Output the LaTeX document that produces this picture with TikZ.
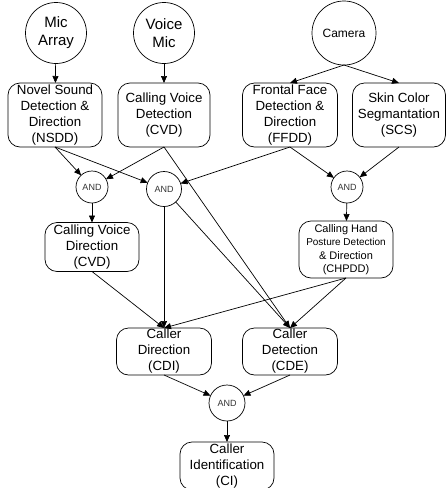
\documentclass[tikz,border=0pt]{standalone}
\usepackage{fontspec}
\setmainfont{Liberation Sans}
\usetikzlibrary{arrows.meta}
\begin{document}
\begin{tikzpicture}[x=1pt,y=-1pt,
  every node/.style={inner sep=0pt, outer sep=0pt, align=center},
  src/.style={draw, circle, line width=0.7pt, font=\fontsize{15}{18}\selectfont},
  box/.style={draw, rounded corners=12pt, line width=0.7pt, minimum width=94pt,
    font=\fontsize{13.3}{16}\selectfont},
  andnode/.style={draw, circle, line width=0.7pt, minimum size=33pt,
    font=\fontsize{9}{10}\selectfont, text=black!80},
  arr/.style={-{Triangle[length=7pt,width=6pt]}, line width=0.7pt}]
\useasboundingbox (0,0) rectangle (446,488);
% sources
\node[src, minimum size=61pt] (mic) at (56,33) {Mic\\Array};
\node[src, minimum size=61pt] (vmic) at (164,33) {Voice\\Mic};
\node[src, minimum size=64pt, font=\fontsize{12}{14}\selectfont] (cam) at (344,33) {Camera};
% first row boxes
\node[box, minimum height=64pt] (nsdd) at (55,115) {Novel Sound\\Detection \&\\Direction\\(NSDD)};
\node[box, minimum height=64pt, minimum width=92pt] (cvd) at (164,115) {Calling Voice\\Detection\\(CVD)};
\node[box, minimum height=64pt, minimum width=95pt] (ffdd) at (290,115) {Frontal Face\\Detection \&\\Direction\\(FFDD)};
\node[box, minimum height=64pt, minimum width=93pt] (scs) at (399,115) {Skin Color\\Segmantation\\(SCS)};
% AND gates
\node[andnode, minimum size=32pt] (and1) at (92,187) {AND};
\node[andnode, minimum size=35pt] (and2) at (164,189) {AND};
\node[andnode, minimum size=32pt] (and3) at (347,187) {AND};
% second row
\node[box, minimum height=49pt] (cvd2) at (92,247) {Calling Voice\\Direction\\(CVD)};
\node[box, minimum height=57pt, font=\fontsize{11}{13.3}\selectfont] (chpdd) at (346,249.5)
  {Calling Hand\\{\fontsize{10}{13.3}\selectfont Posture Detection}\\\& Direction\\(CHPDD)};
% third row
\node[box, minimum height=47pt, minimum width=95pt] (cdi) at (164,351.5) {Caller\\Direction\\(CDI)};
\node[box, minimum height=47pt, minimum width=95pt] (cde) at (290,351.5) {Caller\\Detection\\(CDE)};
\node[andnode, minimum size=36pt] (and4) at (227,403) {AND};
\node[box, minimum height=48pt] (ci) at (227,466) {Caller\\Identification\\(CI)};
% edges
\draw[arr] (mic) -- (nsdd);
\draw[arr] (vmic) -- (cvd);
\draw[arr] (cam.south) -- (ffdd.north);
\draw[arr] (cam.south) -- (scs.north);
\draw[arr] (nsdd.south) -- (and1);
\draw[arr] (nsdd.south) -- (and2);
\draw[arr] (cvd.south) -- (and1);
\draw[arr] (cvd.south) -- (cde.north);
\draw[arr] (ffdd.south) -- (and2);
\draw[arr] (ffdd.south) -- (and3);
\draw[arr] (scs.south) -- (and3);
\draw[arr] (and1) -- (cvd2);
\draw[arr] (and3) -- (chpdd);
\draw[arr] (and2) -- (cdi.north);
\draw[arr] (and2) -- (cde.north);
\draw[arr] (cvd2.south) -- (cdi.north);
\draw[arr] (chpdd.south) -- (cdi.north);
\draw[arr] (chpdd.south) -- (cde.north);
\draw[arr] (cdi.south) -- (and4);
\draw[arr] (cde.south) -- (and4);
\draw[arr] (and4) -- (ci);
\end{tikzpicture}
\end{document}
